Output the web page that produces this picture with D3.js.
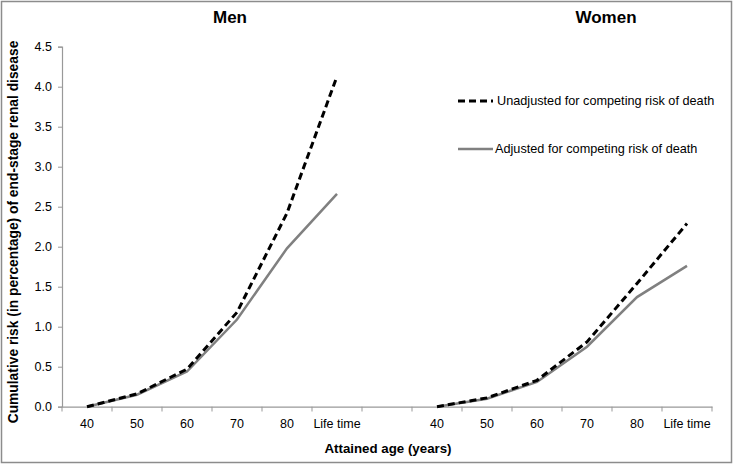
<!DOCTYPE html>
<html><head><meta charset="utf-8">
<script src="https://cdn.jsdelivr.net/npm/d3@7"></script>
<style>body{margin:0;background:#fff;} text{font-family:"Liberation Sans",Arial,sans-serif;}</style>
</head><body>
<svg id="c" width="733" height="464"></svg>
<script>
const categories = ["40","50","60","70","80","Life time"," ","40 ","50 ","60 ","70 ","80 ","Life time "];
const menCats = ["40","50","60","70","80","Life time"];
const womenCats = ["40 ","50 ","60 ","70 ","80 ","Life time "];
const menUnadjusted = [0, 0.16, 0.47, 1.18, 2.42, 4.13];
const menAdjusted = [0, 0.15, 0.44, 1.09, 1.98, 2.66];
const womenUnadjusted = [0, 0.11, 0.33, 0.81, 1.54, 2.29];
const womenAdjusted = [0, 0.10, 0.31, 0.75, 1.37, 1.76];
const yTicks = [0, 0.5, 1.0, 1.5, 2.0, 2.5, 3.0, 3.5, 4.0, 4.5];
const legendLabels = ["Unadjusted for competing risk of death", "Adjusted for competing risk of death"];

const svg = d3.select("#c");
svg.append("rect").attr("x",1.5).attr("y",1.5).attr("width",730).attr("height",461)
  .attr("fill","#fff").attr("stroke","#8c8c8c").attr("stroke-width",1.5);

const x = d3.scaleBand().domain(categories).range([62, 712]);
const y = d3.scaleLinear().domain([0, 4.5]).range([406.7, 46.7]);
const axisColor = "#999";

// y axis
const ya = svg.append("g").attr("transform","translate(62,0)")
  .call(d3.axisLeft(y).tickValues(yTicks).tickFormat(d3.format(".1f")).tickSize(4).tickPadding(6));
ya.select(".domain").attr("stroke",axisColor).attr("stroke-width",1.2);
ya.selectAll(".tick line").attr("stroke",axisColor);
ya.selectAll("text").attr("font-size",12.5).attr("fill","#000").attr("font-family","Liberation Sans, Arial, sans-serif");

// x axis
const xa = svg.append("g").attr("transform","translate(0,406.7)")
  .call(d3.axisBottom(x).tickSize(0).tickPadding(12));
xa.select(".domain").attr("stroke",axisColor).attr("stroke-width",1.2);
xa.selectAll("text").attr("font-size",12.5).attr("fill","#000").attr("font-family","Liberation Sans, Arial, sans-serif");
// category boundary ticks
const bounds = categories.map(c => x(c)).concat([x(categories[categories.length-1]) + x.bandwidth()]);
svg.append("g").selectAll("line").data(bounds).join("line")
  .attr("x1",d=>d).attr("x2",d=>d).attr("y1",406.7).attr("y2",411.5)
  .attr("stroke",axisColor).attr("stroke-width",1);

const line = d3.line().x(d => x(d[0]) + x.bandwidth()/2).y(d => y(d[1]));
function draw(cats, vals, dashed){
  svg.append("path").datum(cats.map((c,i)=>[c, vals[i]]))
    .attr("d", line).attr("fill","none")
    .attr("stroke", dashed ? "#000" : "#808080")
    .attr("stroke-width", dashed ? 3 : 2.5)
    .attr("stroke-dasharray", dashed ? "7,4" : null);
}
draw(menCats, menAdjusted, false);
draw(menCats, menUnadjusted, true);
draw(womenCats, womenAdjusted, false);
draw(womenCats, womenUnadjusted, true);

// titles
svg.append("text").attr("x",230).attr("y",23).attr("text-anchor","middle")
  .attr("font-size",17).attr("font-weight","bold").text("Men");
svg.append("text").attr("x",606).attr("y",23).attr("text-anchor","middle")
  .attr("font-size",17).attr("font-weight","bold").text("Women");
svg.append("text").attr("x",388).attr("y",453).attr("text-anchor","middle")
  .attr("font-size",13.3).attr("font-weight","bold").text("Attained age (years)");
svg.append("text").attr("transform","translate(18,232) rotate(-90)").attr("text-anchor","middle")
  .attr("font-size",13.8).attr("font-weight","bold").text("Cumulative risk (in percentage) of end-stage renal disease");

// legend
const leg = svg.append("g");
[0,1].forEach(i => {
  const ly = 101 + i*48;
  leg.append("line").attr("x1",458).attr("x2",493).attr("y1",ly).attr("y2",ly)
    .attr("stroke", i===0 ? "#000" : "#808080").attr("stroke-width", i===0?3:2.5)
    .attr("stroke-dasharray", i===0 ? "7,4" : null);
  leg.append("text").attr("x",i===0?497:495).attr("y",ly+4).attr("font-size",12.7).text(legendLabels[i]);
});
</script>
</body></html>
